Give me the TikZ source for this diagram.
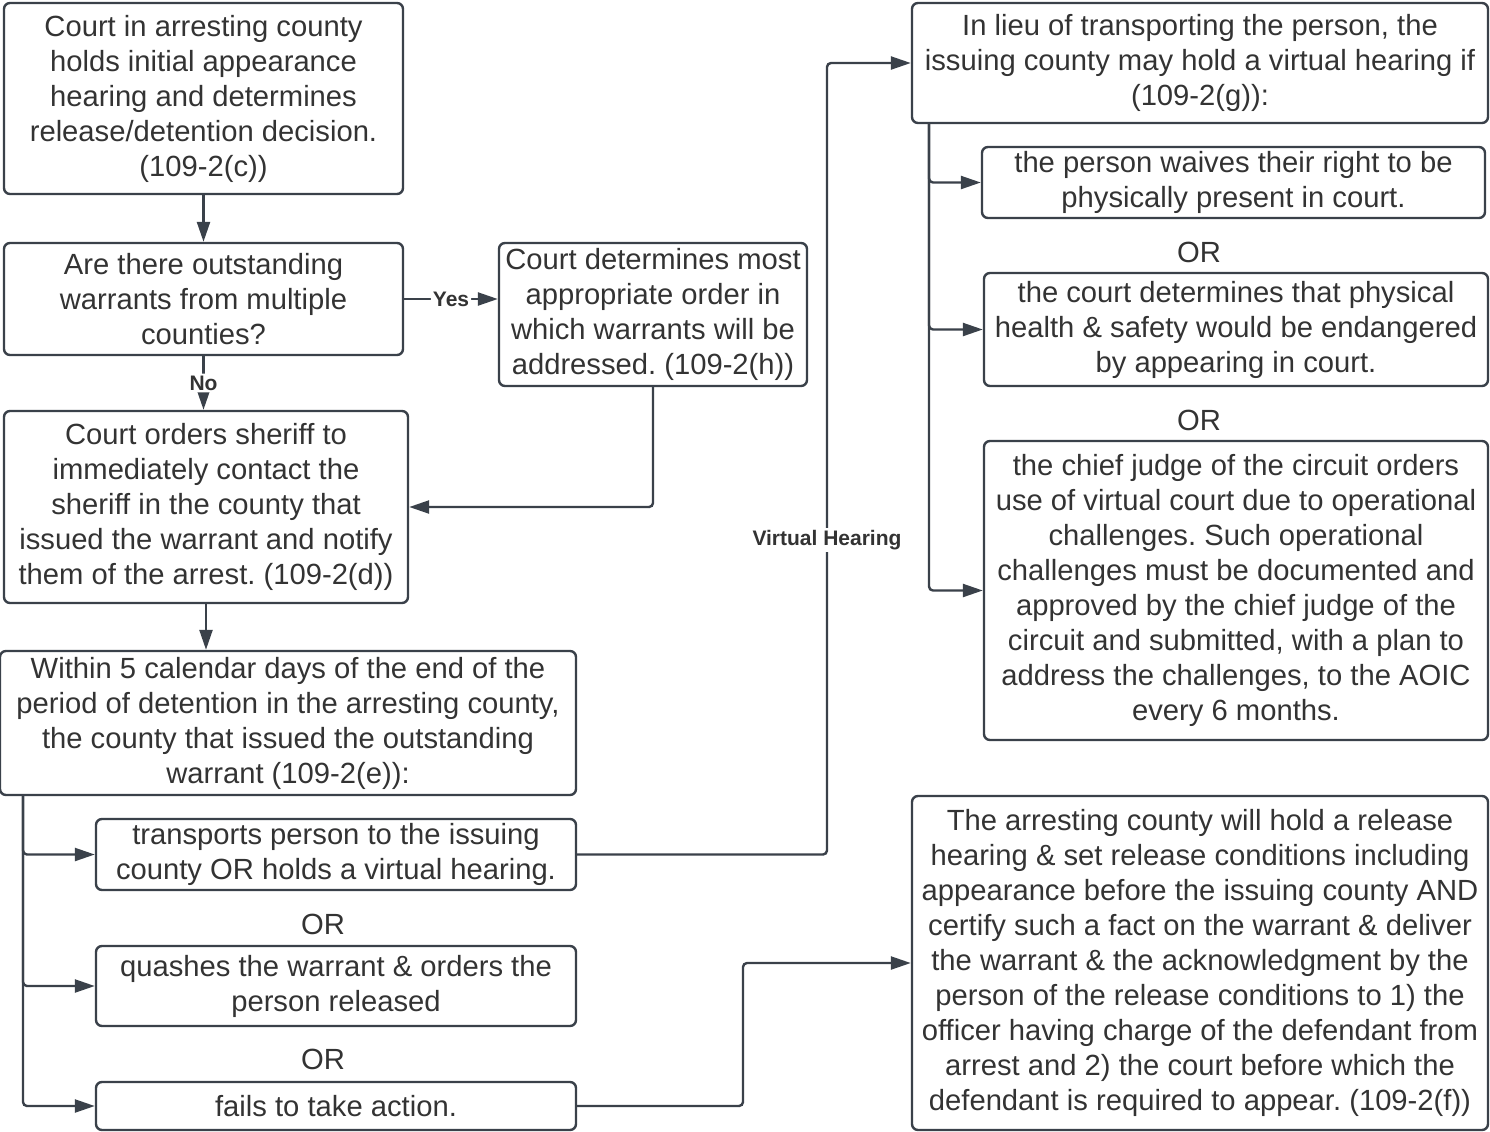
\documentclass[tikz,border=0pt]{standalone}
\usepackage{fontspec}
\setmainfont{Liberation Sans}
\usetikzlibrary{arrows.meta}
\definecolor{lc}{HTML}{3A414A}
\definecolor{tc}{HTML}{333333}
\frenchspacing

\begin{document}
\begin{tikzpicture}[x=0.5pt,y=-0.5pt,
		box/.style={draw=lc, line width=1.2pt, rounded corners=3pt, align=center, inner sep=1pt, text=tc, font=\fontsize{14.6pt}{17.5pt}\selectfont},
		ortext/.style={text=tc, font=\fontsize{14.6pt}{17.5pt}\selectfont},
		lbl/.style={fill=white, inner sep=1pt, text=tc, font=\bfseries\fontsize{10.5pt}{12pt}\selectfont},
		arr/.style={draw=lc, line width=1.2pt, rounded corners=2pt, -{Triangle[length=10pt,width=6.5pt]}}]
		\useasboundingbox (0,0) rectangle (1490,1131);

		% left column
		\node[box, minimum width=199.5pt, minimum height=95.5pt] (init) at (203.5,98.5) {Court in arresting county\\holds initial appearance\\hearing and determines\\release/detention decision.\\(109-2(c))};
		\node[box, minimum width=199.5pt, minimum height=56pt] (ask) at (203.5,299) {Are there outstanding\\warrants from multiple\\counties?};
		\node[box, minimum width=154pt, minimum height=71.5pt] (order) at (653,314.5) {Court determines most\\appropriate order in\\which warrants will be\\addressed. (109-2(h))};
		\node[box, minimum width=202pt, minimum height=96pt] (notify) at (206,507) {Court orders sheriff to\\immediately contact the\\sheriff in the county that\\issued the warrant and notify\\them of the arrest. (109-2(d))};
		\node[box, minimum width=288pt, minimum height=72pt] (within) at (288,723) {Within 5 calendar days of the end of the\\period of detention in the arresting county,\\the county that issued the outstanding\\warrant (109-2(e)):};
		\node[box, minimum width=240pt, minimum height=35.5pt] (transp) at (336,854.5) {transports person to the issuing\\county OR holds a virtual hearing.};
		\node[ortext] (or1) at (323,924) {OR};
		\node[box, minimum width=240pt, minimum height=40pt] (quash) at (336,986) {quashes the warrant \& orders the\\person released};
		\node[ortext] (or2) at (323,1059) {OR};
		\node[box, minimum width=240pt, minimum height=24pt] (fails) at (336,1106) {fails to take action.};

		% right column
		\node[box, minimum width=288pt, minimum height=60pt] (lieu) at (1200,63) {In lieu of transporting the person, the\\issuing county may hold a virtual hearing if\\(109-2(g)):};
		\node[box, minimum width=251.5pt, minimum height=35.5pt] (waive) at (1233.5,182.5) {the person waives their right to be\\physically present in court.};
		\node[ortext] (or3) at (1199,252) {OR};
		\node[box, minimum width=252pt, minimum height=56.5pt] (health) at (1236,329.5) {the court determines that physical\\health \& safety would be endangered\\by appearing in court.};
		\node[ortext] (or4) at (1199,420) {OR};
		\node[box, minimum width=252pt, minimum height=149.5pt] (judge) at (1236,590.5) {the chief judge of the circuit orders\\use of virtual court due to operational\\challenges. Such operational\\challenges must be documented and\\approved by the chief judge of the\\circuit and submitted, with a plan to\\address the challenges, to the AOIC\\every 6 months.};
		\node[box, minimum width=288pt, minimum height=167pt] (release) at (1200,963) {The arresting county will hold a release\\hearing \& set release conditions including\\appearance before the issuing county AND\\certify such a fact on the warrant \& deliver\\the warrant \& the acknowledgment by the\\person of the release conditions to 1) the\\officer having charge of the defendant from\\arrest and 2) the court before which the\\defendant is required to appear. (109-2(f))};

		\coordinate (wt) at (23,795);
		\coordinate (lt) at (929,123);
		\coordinate (vh) at (827,540);
		\coordinate (fh) at (743,963);

		\draw[arr] (init) -- (ask);
		\draw[arr] (ask.east) -- node[lbl]{Yes} (ask.east -| order.west);
		\draw[arr] (ask.south) -- node[lbl]{No} (ask.south |- notify.north);
		\draw[arr] (order.south) |- (notify.east);
		\draw[arr] (notify.south) -- (notify.south |- within.north);
		\draw[arr] (wt) |- (transp.west);
		\draw[arr] (wt) |- (quash.west);
		\draw[arr] (wt) |- (fails.west);
		\draw[arr] (transp.east) -| (vh) node[lbl]{Virtual Hearing} |- (lieu.west);
		\draw[arr] (fails.east) -| (fh) -- (release.west);
		\draw[arr] (lt) |- (waive.west);
		\draw[arr] (lt) |- (health.west);
		\draw[arr] (lt) |- (judge.west);
\end{tikzpicture}
\end{document}
